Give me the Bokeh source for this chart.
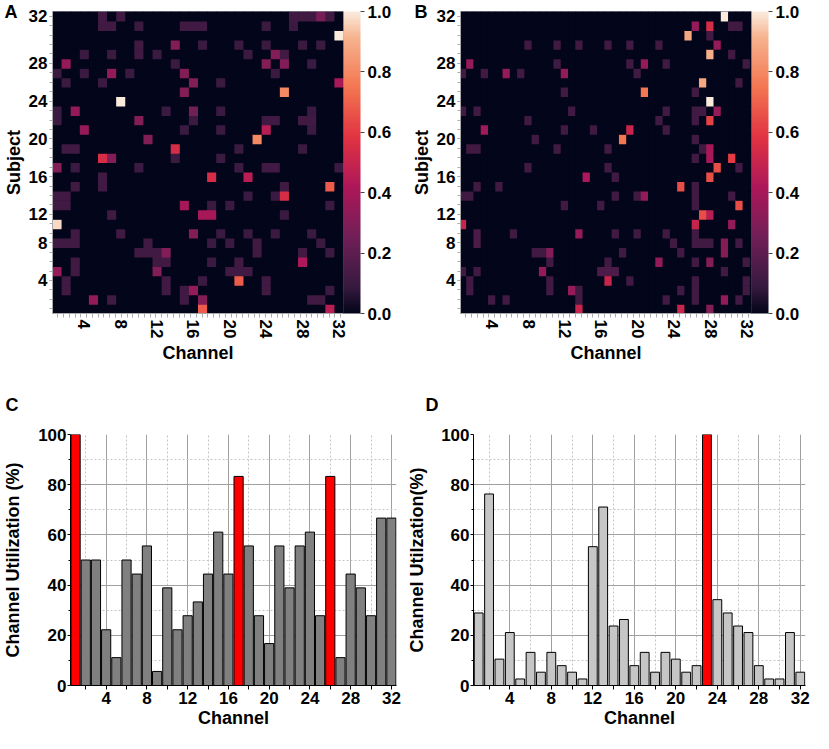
import numpy as np
from bokeh.plotting import figure
from bokeh.models import (ColumnDataSource, LinearColorMapper, ColorBar, FixedTicker,
                          PrintfTickFormatter, Range1d)
from bokeh.layouts import row, column
from bokeh.embed import file_html
from bokeh.resources import INLINE
from bokeh.transform import transform

FONT = "Liberation Sans"

# ---------------- data ----------------
channels = list(range(1, 33))
subjects = list(range(1, 33))
channel_ticks = [4, 8, 12, 16, 20, 24, 28, 32]
subject_tick_rows = [4, 8, 11, 15, 19, 23, 27, 32]
subject_tick_labels = ["4", "8", "12", "16", "20", "24", "28", "32"]
cbar_ticks = [0.0, 0.2, 0.4, 0.6, 0.8, 1.0]
util_ticks = [0, 20, 40, 60, 80, 100]

# panel A: (channel, subject, value) of non-zero cells
a_cells = [
    (6, 32, .12), (8, 32, .12), (27, 32, .12), (28, 32, .12), (29, 32, .12), (30, 32, .27), (31, 32, .12),
    (6, 31, .12), (7, 31, .12), (10, 31, .10), (15, 31, .12), (16, 31, .12), (17, 31, .12), (24, 31, .10), (27, 31, .10),
    (32, 30, 1.0),
    (10, 29, .12), (14, 29, .30), (17, 29, .10), (21, 29, .10), (24, 29, .10), (28, 29, .10), (30, 29, .10),
    (4, 28, .10), (7, 28, .10), (10, 28, .12), (12, 28, .10), (22, 28, .10), (25, 28, .30), (26, 28, .12),
    (2, 27, .35), (14, 27, .10), (24, 27, .30), (26, 27, .30), (29, 27, .10),
    (1, 26, .10), (4, 26, .10), (7, 26, .35), (9, 26, .10), (15, 26, .30), (25, 26, .10),
    (2, 25, .10), (6, 25, .10), (16, 25, .30), (19, 25, .10), (32, 25, .40),
    (15, 24, .30), (26, 24, .80),
    (8, 23, 1.0),
    (1, 22, .10), (3, 22, .35), (13, 22, .10), (16, 22, .25), (19, 22, .10), (29, 22, .10),
    (1, 21, .10), (10, 21, .30), (16, 21, .10), (24, 21, .12), (25, 21, .12), (28, 21, .12), (29, 21, .12),
    (4, 20, .35), (15, 20, .10), (19, 20, .10), (24, 20, .45), (29, 20, .10),
    (11, 19, .30), (23, 19, .80),
    (2, 18, .12), (3, 18, .12), (14, 18, .55), (21, 18, .10), (28, 18, .10),
    (6, 17, .55), (7, 17, .30), (14, 17, .10), (19, 17, .10),
    (1, 16, .30), (3, 16, .10), (10, 16, .10), (21, 16, .10), (24, 16, .12), (25, 16, .12), (32, 16, .10),
    (6, 15, .12), (18, 15, .55), (22, 15, .45),
    (3, 14, .12), (6, 14, .12), (26, 14, .12), (31, 14, .68),
    (1, 13, .12), (2, 13, .12), (22, 13, .10), (25, 13, .10), (26, 13, .55),
    (1, 12, .12), (2, 12, .12), (15, 12, .40), (18, 12, .10), (20, 12, .10), (31, 12, .10),
    (7, 11, .12), (17, 11, .40), (18, 11, .40), (26, 11, .10),
    (1, 10, .97),
    (3, 9, .12), (8, 9, .12), (16, 9, .30), (19, 9, .10), (22, 9, .10), (25, 9, .10), (29, 9, .10),
    (1, 8, .12), (2, 8, .12), (3, 8, .12), (11, 8, .12), (18, 8, .10), (20, 8, .10), (23, 8, .12), (30, 8, .10),
    (10, 7, .12), (11, 7, .12), (12, 7, .12), (13, 7, .30), (23, 7, .12), (28, 7, .12), (31, 7, .10),
    (3, 6, .12), (12, 6, .12), (13, 6, .12), (18, 6, .10), (21, 6, .12), (28, 6, .42),
    (1, 5, .35), (3, 5, .12), (12, 5, .30), (20, 5, .12), (21, 5, .12), (22, 5, .12),
    (2, 4, .12), (13, 4, .12), (17, 4, .10), (21, 4, .68), (24, 4, .12),
    (2, 3, .12), (13, 3, .12), (15, 3, .12), (16, 3, .35), (24, 3, .12), (31, 3, .10),
    (5, 2, .35), (7, 2, .12), (15, 2, .12), (17, 2, .30), (29, 2, .12), (30, 2, .12),
    (17, 1, .68), (31, 1, .45),
]

# panel B: drawn on 41 narrow columns; (column, subject, value) of non-zero cells
b_n_columns = 41
b_cells = [
    (37, 32, 1.0),
    (33, 31, .35), (35, 31, .55), (38, 31, .12), (39, 31, .12),
    (32, 30, .88), (35, 30, .12),
    (10, 29, .12), (14, 29, .12), (17, 29, .12), (21, 29, .12), (24, 29, .12), (28, 29, .12), (36, 29, .35),
    (35, 28, .90), (38, 28, .12),
    (2, 27, .35), (14, 27, .12), (24, 27, .12), (26, 27, .35), (29, 27, .12), (40, 27, .12),
    (1, 26, .12), (4, 26, .12), (7, 26, .35), (9, 26, .12), (15, 26, .35), (25, 26, .12),
    (34, 25, .88), (39, 25, .12),
    (15, 24, .12), (26, 24, .75), (33, 24, .12),
    (35, 23, 1.0),
    (1, 22, .12), (3, 22, .12), (16, 22, .12), (29, 22, .12), (33, 22, .12), (34, 22, .12), (36, 22, .35),
    (10, 21, .12), (28, 21, .12), (33, 21, .12), (35, 21, .62),
    (4, 20, .38), (15, 20, .12), (19, 20, .12), (24, 20, .50), (29, 20, .12),
    (11, 19, .12), (23, 19, .75), (33, 19, .12),
    (2, 18, .12), (3, 18, .12), (14, 18, .12), (21, 18, .12), (34, 18, .12), (35, 18, .40),
    (33, 17, .12), (35, 17, .40), (38, 17, .60),
    (10, 16, .12), (21, 16, .12), (36, 16, .65), (39, 16, .12),
    (18, 15, .42), (22, 15, .12), (35, 15, .65),
    (3, 14, .12), (6, 14, .12), (31, 14, .65), (33, 14, .12),
    (1, 13, .12), (2, 13, .12), (22, 13, .12), (25, 13, .12), (26, 13, .35), (33, 13, .12), (38, 13, .12),
    (15, 12, .12), (20, 12, .12), (33, 12, .12), (39, 12, .65),
    (34, 11, .65), (35, 11, .45),
    (1, 10, .50), (33, 10, .50), (38, 10, .35),
    (3, 9, .15), (8, 9, .12), (17, 9, .35), (22, 9, .12), (25, 9, .12), (29, 9, .12), (33, 9, .12),
    (3, 8, .15), (30, 8, .12), (33, 8, .12), (34, 8, .12), (35, 8, .12), (37, 8, .30), (39, 8, .12),
    (11, 7, .12), (12, 7, .12), (13, 7, .30), (23, 7, .12), (31, 7, .12), (37, 7, .30),
    (13, 6, .12), (21, 6, .12), (28, 6, .35), (33, 6, .12), (35, 6, .30), (40, 6, .12),
    (1, 5, .12), (3, 5, .12), (12, 5, .35), (20, 5, .15), (21, 5, .15), (22, 5, .15), (37, 5, .12),
    (2, 4, .12), (13, 4, .12), (21, 4, .50), (24, 4, .12), (33, 4, .12), (40, 4, .12),
    (2, 3, .12), (13, 3, .12), (16, 3, .35), (17, 3, .12), (31, 3, .12), (33, 3, .12), (40, 3, .12),
    (5, 2, .12), (7, 2, .12), (17, 2, .12), (29, 2, .12), (33, 2, .12), (37, 2, .35), (39, 2, .12),
    (17, 1, .50), (31, 1, .50), (35, 1, .30),
]

c_util = [100, 50, 50, 22.2, 11.1, 50, 44.4, 55.6, 5.6, 38.9, 22.2, 27.8, 33.3, 44.4, 61.1, 44.4,
          83.3, 55.6, 27.8, 16.7, 55.6, 38.9, 55.6, 61.1, 27.8, 83.3, 11.1, 44.4, 38.9, 27.8, 66.7, 66.7]
c_highlight = [1, 17, 26]
d_util = [28.9, 76.3, 10.5, 21.1, 2.6, 13.2, 5.3, 13.2, 7.9, 5.3, 2.6, 55.3, 71.1, 23.7, 26.3, 7.9,
          13.2, 5.3, 13.2, 10.5, 5.3, 7.9, 100, 34.2, 28.9, 23.7, 21.1, 7.9, 2.6, 2.6, 21.1, 5.3]
d_highlight = [23]

# ---------------- colour map (rocket-like) ----------------
stops = [0.0, 0.0833, 0.25, 0.4167, 0.5833, 0.75, 0.9167, 1.0]
stop_colors = ["#03051A", "#35193E", "#701F57", "#AD1759", "#E13342", "#F37651", "#F6B48F", "#FAEBDD"]


def _rgb(h):
    return [int(h[i:i + 2], 16) for i in (1, 3, 5)]


_chan = np.array([_rgb(c) for c in stop_colors], dtype=float)
palette = []
for i in range(256):
    t = i / 255
    rgb = [int(round(np.interp(t, stops, _chan[:, k]))) for k in range(3)]
    palette.append("#%02x%02x%02x" % tuple(rgb))
mapper = LinearColorMapper(palette=palette, low=0, high=1)


def full_grid(n_cols, cells):
    vals = {(c, s): 0.0 for c in range(1, n_cols + 1) for s in subjects}
    for c, s, v in cells:
        vals[(c, s)] = v
    cols = [k[0] for k in vals]
    subs = [k[1] for k in vals]
    vs = [vals[k] for k in vals]
    return cols, subs, vs


def style_text_axis(ax, size="17px"):
    ax.major_label_text_font = FONT
    ax.major_label_text_font_style = "bold"
    ax.major_label_text_font_size = size
    ax.major_label_text_color = "black"
    ax.axis_label_text_font = FONT
    ax.axis_label_text_font_style = "bold"
    ax.axis_label_text_font_size = "18px"
    ax.axis_label_text_color = "black"


def panel_letter(p, text, offset, standoff):
    p.title.text = text
    p.title.align = "left"
    p.title.offset = offset
    p.title.standoff = standoff
    p.title.text_font = FONT
    p.title.text_font_style = "bold"
    p.title.text_font_size = "18px"
    p.title.text_color = "black"


x_minor_heat = [1.08 + 0.635 * k for k in range(50)]


def heat_fig(xs, ys, vs, cell_w, name, width, min_left, min_right, letter_offset):
    p = figure(width=width, height=366, x_range=Range1d(0.5, 32.5), y_range=Range1d(0.5, 32.5),
               toolbar_location=None, output_backend="svg",
               min_border_left=min_left, min_border_right=min_right,
               min_border_top=11, min_border_bottom=50)
    src = ColumnDataSource(dict(x=xs, y=ys, v=vs))
    p.rect(x="x", y="y", width=cell_w, height=1, source=src, dilate=True,
           fill_color=transform("v", mapper), line_color=None)
    p.background_fill_color = palette[0]
    p.border_fill_color = "white"
    p.outline_line_color = None
    p.grid.visible = False

    xa = p.xaxis[0]
    xa.ticker = FixedTicker(ticks=channel_ticks, minor_ticks=x_minor_heat)
    xa.major_label_orientation = "vertical"
    xa.major_tick_line_color = None
    xa.major_tick_out = 4
    xa.minor_tick_line_color = "#aaaaaa"
    xa.minor_tick_out = 4
    xa.minor_tick_in = 0
    xa.axis_line_color = "#aaaaaa"
    xa.major_label_standoff = 2
    xa.axis_label_standoff = 2
    xa.axis_label = "Channel"
    style_text_axis(xa)

    ya = p.yaxis[0]
    ya.ticker = FixedTicker(ticks=subject_tick_rows, minor_ticks=subjects)
    ya.major_label_overrides = {r: l for r, l in zip(subject_tick_rows, subject_tick_labels)}
    ya.major_tick_line_color = "#aaaaaa"
    ya.major_tick_out = 3
    ya.major_tick_in = 0
    ya.minor_tick_line_color = "#aaaaaa"
    ya.minor_tick_out = 3
    ya.minor_tick_in = 0
    ya.axis_line_color = "#aaaaaa"
    ya.major_label_standoff = 2
    ya.axis_label_standoff = 2
    ya.axis_label = "Subject"
    style_text_axis(ya)

    cb = ColorBar(color_mapper=mapper, ticker=FixedTicker(ticks=cbar_ticks),
                  formatter=PrintfTickFormatter(format="%.1f"),
                  width=17, padding=0, margin=8, label_standoff=3,
                  major_tick_in=0, major_tick_out=4, major_tick_line_color="#444444",
                  minor_tick_line_color=None, bar_line_color=None,
                  major_label_text_font=FONT, major_label_text_font_style="bold",
                  major_label_text_font_size="17px", major_label_text_color="black",
                  background_fill_alpha=0, border_line_color=None)
    p.add_layout(cb, "right")
    panel_letter(p, name, letter_offset, -20)
    return p


a_x, a_y, a_v = full_grid(32, a_cells)
p_a = heat_fig(a_x, a_y, a_v, 1.0, "A", 405, 51, 62, -48)

b_col, b_y, b_v = full_grid(b_n_columns, b_cells)
B_X0, B_STEP = 0.723, 0.8   # column grid of panel B on the channel axis
b_x = [B_X0 + B_STEP * (c - 1) for c in b_col]
p_b = heat_fig(b_x, b_y, b_v, B_STEP, "B", 408, 55, 62, -46)


def bar_fig(util, highlight, fill, bar_w, name, ylabel, width, min_left, lab_standoff, min_right, letter_offset):
    p = figure(width=width, height=367, x_range=Range1d(0.5, 32.5), y_range=Range1d(0, 100),
               toolbar_location=None, output_backend="svg",
               min_border_left=min_left, min_border_right=min_right,
               min_border_top=68, min_border_bottom=48)
    colors = ["#ff0000" if ch in highlight else fill for ch in channels]
    src = ColumnDataSource(dict(x=channels, top=util, color=colors))
    p.vbar(x="x", top="top", width=bar_w, bottom=0, source=src,
           fill_color="color", line_color="black", line_width=1)
    p.outline_line_color = None
    p.background_fill_color = "white"

    p.xgrid.ticker = FixedTicker(ticks=channel_ticks, minor_ticks=[2, 6, 10, 14, 18, 22, 26, 30])
    p.xgrid.grid_line_color = "#a0a0a0"
    p.xgrid.grid_line_width = 1
    p.xgrid.minor_grid_line_color = "#c4c4c4"
    p.xgrid.minor_grid_line_dash = "2 2"
    p.ygrid.ticker = FixedTicker(ticks=[20, 40, 60, 80], minor_ticks=[10, 30, 50, 70, 90])
    p.ygrid.grid_line_color = "#a0a0a0"
    p.ygrid.grid_line_width = 1
    p.ygrid.minor_grid_line_color = "#c4c4c4"
    p.ygrid.minor_grid_line_dash = "2 2"

    xa = p.xaxis[0]
    xa.ticker = FixedTicker(ticks=channel_ticks, minor_ticks=[2, 6, 10, 14, 18, 22, 26, 30])
    xa.axis_line_color = "black"
    xa.major_tick_line_color = "black"
    xa.major_tick_out = 4
    xa.major_tick_in = 0
    xa.minor_tick_line_color = "black"
    xa.minor_tick_out = 4
    xa.minor_tick_in = 0
    xa.major_label_standoff = 2
    xa.axis_label_standoff = 1
    xa.axis_label = "Channel"
    style_text_axis(xa)

    ya = p.yaxis[0]
    ya.ticker = FixedTicker(ticks=util_ticks, minor_ticks=[10, 30, 50, 70, 90])
    ya.axis_line_color = "black"
    ya.major_tick_line_color = "black"
    ya.major_tick_out = 3
    ya.major_tick_in = 0
    ya.minor_tick_line_color = "black"
    ya.minor_tick_out = 2
    ya.minor_tick_in = 0
    ya.major_label_standoff = 1
    ya.axis_label_standoff = lab_standoff
    ya.axis_label = ylabel
    style_text_axis(ya)
    panel_letter(p, name, letter_offset, 40)
    return p


p_c = bar_fig(c_util, c_highlight, "#808080", 0.9, "C", "Channel Utilization (%)", 404, 68, 12, 8, -65)
p_d = bar_fig(d_util, d_highlight, "#c6c6c6", 0.85, "D", "Channel Utilzation(%)", 409, 68, 11, 8, -48)

layout = column(row(p_a, p_b), row(p_c, p_d))
open("out.html", "w").write(file_html(layout, INLINE))
